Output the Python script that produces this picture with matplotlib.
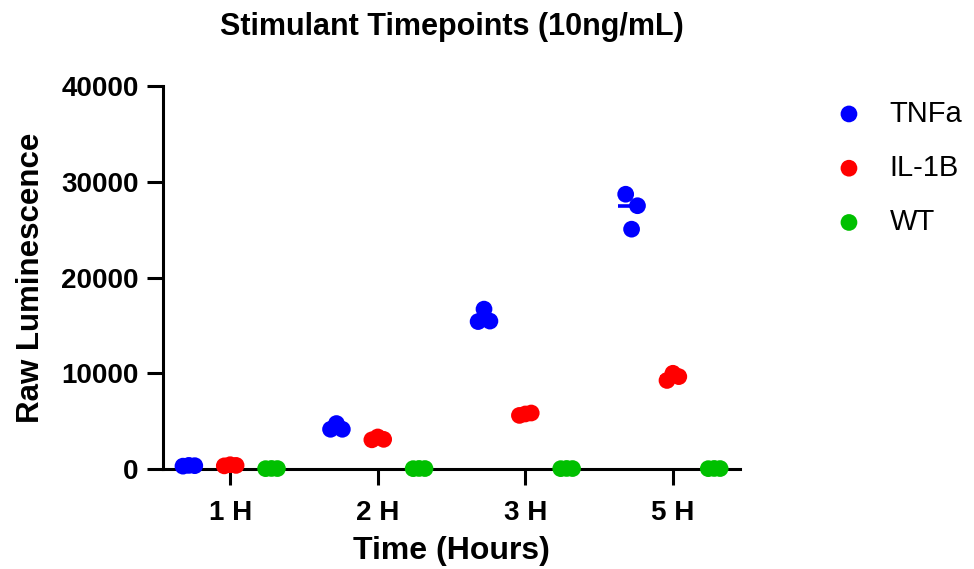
import matplotlib
matplotlib.use('Agg')
import matplotlib.pyplot as plt
import numpy as np

plt.rcParams['font.family'] = ['Liberation Sans', 'DejaVu Sans']

# Data, three replicates per group, left-to-right order
timepoints = ['1 H', '2 H', '3 H', '5 H']
groups = ['TNFa', 'IL-1B', 'WT']
colors = ['#0000FF', '#FF0000', '#00C000']

tnfa = [[300, 380, 350], [4150, 4750, 4150], [15400, 16700, 15450], [28700, 25050, 27500]]
il1b = [[330, 450, 380], [3050, 3350, 3100], [5600, 5750, 5850], [9250, 10000, 9650]]
wt = [[40, 60, 50], [40, 60, 50], [40, 60, 50], [40, 60, 50]]
series = [tnfa, il1b, wt]

yticks = [0, 10000, 20000, 30000, 40000]

fig = plt.figure(figsize=(9.74, 5.69), dpi=100)
ax = fig.add_axes([0.1674, 0.1757, 0.5924, 0.6731])

group_offset = [-0.28, 0.0, 0.28]
point_spread = [-0.04, 0.0, 0.04]

for g, (name, data, col) in enumerate(zip(groups, series, colors)):
    for i, vals in enumerate(data):
        xc = i + group_offset[g]
        xs = [xc + d for d in point_spread]
        ax.hlines(np.median(vals), xc - 0.09, xc + 0.09, color=col, lw=2.6,
                  zorder=2, clip_on=False)
        ax.scatter(xs, vals, s=145, color=col, edgecolors='none', zorder=3,
                   clip_on=False, label=name if i == 0 else None)

ax.set_xlim(-0.455, 3.455)
ax.set_ylim(0, 40000)
ax.set_xticks(range(len(timepoints)))
ax.set_xticklabels(timepoints)
ax.set_yticks(yticks)
ax.set_yticklabels([str(v) for v in yticks])

for s in ['top', 'right']:
    ax.spines[s].set_visible(False)
for s in ['left', 'bottom']:
    ax.spines[s].set_linewidth(2.2)

ax.tick_params(axis='both', direction='out', length=11.5, width=2.2, labelsize=20)
ax.tick_params(axis='y', pad=6)
ax.tick_params(axis='x', pad=11)
for lab in ax.get_xticklabels() + ax.get_yticklabels():
    lab.set_fontweight('bold')

ax.set_xlabel('Time (Hours)', fontsize=23, fontweight='bold', labelpad=7)
ax.set_ylabel('Raw Luminescence', fontsize=22.5, fontweight='bold', labelpad=11)
ax.set_title('Stimulant Timepoints (10ng/mL)', fontsize=22, fontweight='bold', pad=37)

ax.legend(loc='upper left', bbox_to_anchor=(1.118, 0.995), frameon=False, fontsize=21,
          handletextpad=0.4, labelspacing=0.9, markerscale=1.0, borderaxespad=0)

fig.savefig('out.png', dpi=100)
